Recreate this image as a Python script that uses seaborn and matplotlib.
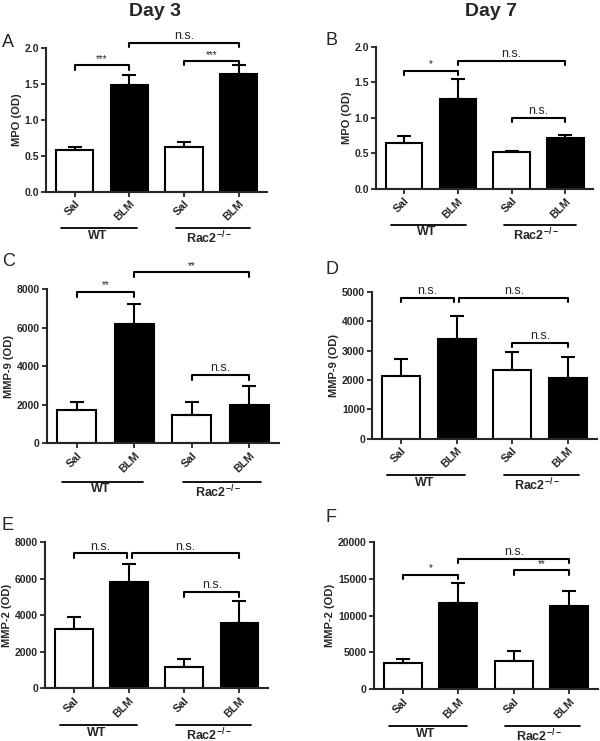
import numpy as np
import pandas as pd
import matplotlib
matplotlib.use("Agg")
import matplotlib.pyplot as plt
import seaborn as sns

# Data
conditions = ["WT Sal", "WT BLM", "Rac2 Sal", "Rac2 BLM"]
tick_labels = ["Sal", "BLM", "Sal", "BLM"]
bar_colors = ["white", "black", "white", "black"]

mpo_d3 = [0.59, 1.49, 0.63, 1.64]
mpo_d3_sem = [0.03, 0.14, 0.07, 0.12]
mpo_d7 = [0.65, 1.26, 0.52, 0.71]
mpo_d7_sem = [0.09, 0.28, 0.02, 0.05]
mmp9_d3 = [1700, 6200, 1450, 2000]
mmp9_d3_sem = [450, 1000, 700, 950]
mmp9_d7 = [2150, 3400, 2350, 2080]
mmp9_d7_sem = [570, 780, 600, 690]
mmp2_d3 = [3250, 5850, 1150, 3600]
mmp2_d3_sem = [650, 950, 450, 1200]
mmp2_d7 = [3500, 11800, 3900, 11300]
mmp2_d7_sem = [600, 2600, 1300, 2100]

# significance brackets: (x1, x2, y, label)
sig_a = [(0, 1, 1.76, "***"), (1, 3, 2.07, "n.s."), (2, 3, 1.82, "***")]
sig_b = [(0, 1, 1.66, "*"), (1, 3, 1.80, "n.s."), (2, 3, 1.0, "n.s.")]
sig_c = [(0, 1, 7850, "**"), (1, 3, 8870, "**"), (2, 3, 3530, "n.s.")]
sig_d = [(0, 0.96, 4800, "n.s."), (1.05, 3, 4800, "n.s."), (2, 3, 3270, "n.s.")]
sig_e = [(0, 0.96, 7400, "n.s."), (1.05, 3, 7400, "n.s."), (2, 3, 5270, "n.s.")]
sig_f = [(0, 1, 15600, "*"), (1, 3, 17760, "n.s."), (2, 3, 16200, "**")]

sns.set_style("ticks")
plt.rcParams["font.family"] = ["Liberation Sans", "DejaVu Sans"]
plt.rcParams["mathtext.default"] = "regular"

fig = plt.figure(figsize=(6, 7.41), dpi=100)

panels = [
    ("A", [0.077, 0.741, 0.368, 0.194], mpo_d3, mpo_d3_sem, sig_a, "MPO (OD)", np.arange(0, 2.01, 0.5), "{:.1f}"),
    ("B", [0.627, 0.745, 0.362, 0.192], mpo_d7, mpo_d7_sem, sig_b, "MPO (OD)", np.arange(0, 2.01, 0.5), "{:.1f}"),
    ("C", [0.078, 0.402, 0.387, 0.208], mmp9_d3, mmp9_d3_sem, sig_c, "MMP-9 (OD)", np.arange(0, 8001, 2000), "{:.0f}"),
    ("D", [0.620, 0.408, 0.375, 0.198], mmp9_d7, mmp9_d7_sem, sig_d, "MMP-9 (OD)", np.arange(0, 5001, 1000), "{:.0f}"),
    ("E", [0.075, 0.071, 0.372, 0.197], mmp2_d3, mmp2_d3_sem, sig_e, "MMP-2 (OD)", np.arange(0, 8001, 2000), "{:.0f}"),
    ("F", [0.623, 0.070, 0.374, 0.198], mmp2_d7, mmp2_d7_sem, sig_f, "MMP-2 (OD)", np.arange(0, 20001, 5000), "{:.0f}"),
]

letter_pos = {"A": (0.003, 0.942), "B": (0.542, 0.946), "C": (0.003, 0.647),
              "D": (0.542, 0.636), "E": (0.003, 0.291), "F": (0.542, 0.302)}

for letter, rect, vals, sems, sigs, ylabel, yticks, fmt in panels:
    ax = fig.add_axes(rect)
    df = pd.DataFrame({"cond": conditions, "val": vals})
    sns.barplot(data=df, x="cond", y="val", hue="cond", palette=bar_colors,
                order=conditions, hue_order=conditions, legend=False,
                edgecolor="black", linewidth=1.5, width=0.68, ax=ax, zorder=2)
    ax.errorbar(range(4), vals, yerr=[np.zeros(4), sems], fmt="none",
                ecolor="black", elinewidth=1.5, capsize=5, capthick=1.5, zorder=3)
    ymax = yticks[-1]
    ax.set_ylim(0, ymax)
    ax.set_xlim(-0.52, 3.52)
    ax.set_yticks(yticks)
    ax.set_yticklabels([fmt.format(t) for t in yticks], fontsize=7.5, fontweight="bold")
    ax.set_xticks(range(4))
    ax.set_xticklabels(tick_labels, rotation=45, ha="right", rotation_mode="anchor",
                       fontsize=8, fontweight="bold")
    ax.set_xlabel("")
    ax.set_ylabel(ylabel, fontsize=8, fontweight="bold", labelpad=2)
    ax.tick_params(width=1.3, length=3.5, pad=1.5)
    for s in ["left", "bottom"]:
        ax.spines[s].set_linewidth(1.5)
    sns.despine(ax=ax)

    # significance brackets
    tip = 0.03 * ymax
    for x1, x2, y, lab in sigs:
        ax.plot([x1, x1, x2, x2], [y - tip, y, y, y - tip], color="black",
                lw=1.5, clip_on=False, zorder=4)
        if lab == "n.s.":
            ax.text((x1 + x2) / 2, y + 0.005 * ymax, lab, ha="center", va="bottom",
                    fontsize=9)
        else:
            ax.text((x1 + x2) / 2, y + 0.01 * ymax, lab, ha="center", va="bottom",
                    fontsize=7)

    # group lines under the axis
    tr = ax.get_xaxis_transform()
    ax.plot([-0.25, 1.15], [-0.25, -0.25], color="black", lw=1.3,
            transform=tr, clip_on=False)
    ax.plot([1.85, 3.2], [-0.25, -0.25], color="black", lw=1.3,
            transform=tr, clip_on=False)
    ax.text(0.42, -0.262, "WT", transform=tr, ha="center", va="top",
            fontsize=9, fontweight="bold")
    ax.text(2.45, -0.262, r"Rac2$^{-/-}$", transform=tr, ha="center", va="top",
            fontsize=9, fontweight="bold")

    fig.text(*letter_pos[letter], letter, fontsize=13, ha="left", va="center")

fig.text(0.258, 0.985, "Day 3", fontsize=14, fontweight="bold", ha="center", va="center")
fig.text(0.818, 0.985, "Day 7", fontsize=14, fontweight="bold", ha="center", va="center")

fig.savefig("out.png", dpi=100)
